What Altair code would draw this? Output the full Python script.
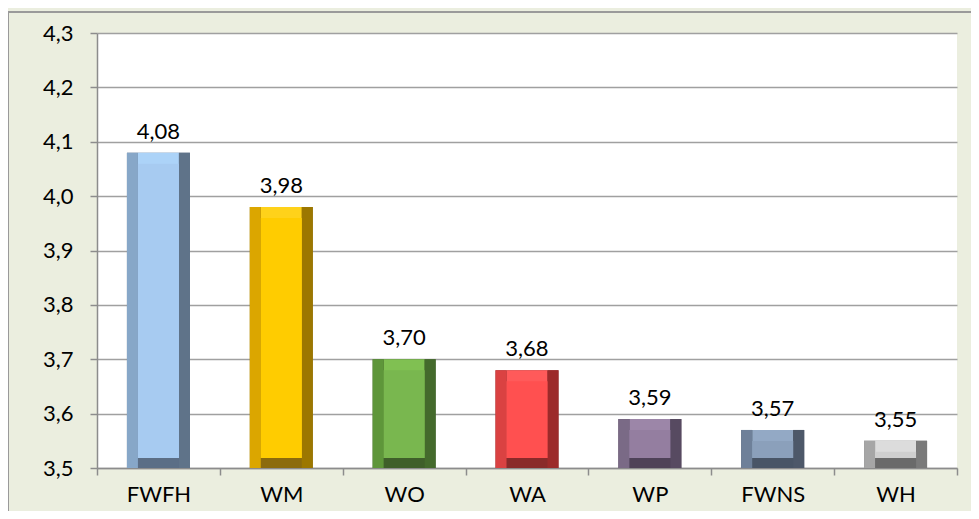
import altair as alt
import pandas as pd

categories = ["FWFH", "WM", "WO", "WA", "WP", "FWNS", "WH"]
values = [4.08, 3.98, 3.70, 3.68, 3.59, 3.57, 3.55]
labels = ["4,08", "3,98", "3,70", "3,68", "3,59", "3,57", "3,55"]

face_colors = ["#A7CBF1", "#FFCC00", "#79B74F", "#FF5050", "#947EA0", "#8BA0BB", "#CFCFCF"]
left_colors = ["#87A7C8", "#DBA600", "#5E963A", "#DA4242", "#7A6A86", "#6E8099", "#A6A6A6"]
right_colors = ["#5F7389", "#9C7700", "#446A2C", "#9C2A2A", "#574A61", "#4D5869", "#7A7A7A"]
top_colors = ["#ACD3F8", "#FFD21A", "#80C052", "#FF5A5A", "#9C86A8", "#93A9C5", "#DCDCDC"]
bottom_colors = ["#5B6E86", "#8C6B0C", "#3F5F2A", "#8A2A2A", "#4F4258", "#495566", "#6A6A6A"]

df = pd.DataFrame({
    "cat": categories, "val": values, "lab": labels, "base": [3.5] * len(values),
    "c_face": face_colors, "c_left": left_colors, "c_right": right_colors,
    "c_top": top_colors, "c_bottom": bottom_colors,
})

FONT = "Lato"
FS = 22
BAR_W = 63
BEV = 11

x_enc = alt.X("cat:N", sort=categories, title=None,
              scale=alt.Scale(paddingInner=0, paddingOuter=0),
              axis=alt.Axis(labelAngle=0, labelFontSize=FS, labelFont=FONT, labelColor="#000",
                            labelPadding=9, tickBand="extent", tickSize=7, tickColor="#8C8C8C",
                            domainColor="#8C8C8C", domainWidth=1.5, tickWidth=1.5, grid=False))
y_scale = alt.Scale(domain=[3.5, 4.3], nice=False, zero=False)
y_enc = alt.Y("val:Q", scale=y_scale, title=None,
              axis=alt.Axis(values=[3.5, 3.6, 3.7, 3.8, 3.9, 4.0, 4.1, 4.2, 4.3],
                            labelExpr="replace(format(datum.value, '.1f'), '.', ',')",
                            labelFontSize=FS, labelFont=FONT, labelColor="#000", labelPadding=17,
                            tickSize=7, tickColor="#8C8C8C", tickWidth=1.5,
                            domainColor="#8C8C8C", domainWidth=1.5,
                            grid=True, gridColor="#A0A0A0", gridWidth=1.5))
y2_enc = alt.Y2("base:Q")


def col(field):
    return alt.Color(f"{field}:N", scale=None, legend=None)


base = alt.Chart(df)

outer = base.mark_bar(width=BAR_W).encode(x=x_enc, y=y_enc, y2=y2_enc, color=col("c_bottom"))
left = base.mark_bar(width=BEV, xOffset=-(BAR_W - BEV) / 2).encode(
    x=x_enc, y=y_enc, y2=y2_enc, color=col("c_left"))
right = base.mark_bar(width=BEV, xOffset=(BAR_W - BEV) / 2).encode(
    x=x_enc, y=y_enc, y2=y2_enc, color=col("c_right"))
topb = base.mark_bar(width=BAR_W - 2 * BEV, y2Offset=-10).encode(
    x=x_enc, y=y_enc, y2=y2_enc, color=col("c_top"))
face = base.mark_bar(width=BAR_W - 2 * BEV, yOffset=BEV, y2Offset=-10).encode(
    x=x_enc, y=y_enc, y2=y2_enc, color=col("c_face"))

text = base.mark_text(dy=-21, fontSize=FS, font=FONT, color="#000").encode(
    x=x_enc, y=y_enc, text="lab:N")

border_left = alt.Chart(df).mark_rule(color="#9A9A9A", strokeWidth=1.5).encode(
    x=alt.value(-89), y=alt.value(-21), y2=alt.value(480))
border_top = alt.Chart(df).mark_rule(color="#9A9A9A", strokeWidth=1.5).encode(
    x=alt.value(-89), x2=alt.value(900), y=alt.value(-21))

chart = alt.layer(border_left, border_top, outer, topb, left, right, face, text).properties(
    width=860, height=435,
    background="#EBEEDF",
    padding={"left": 89, "top": 25, "right": 14, "bottom": 43},
    autosize=alt.AutoSizeParams(type="none"),
).configure_view(fill="white", stroke=None)

chart.save("out.html", embed_options={"renderer": "svg", "actions": False})
